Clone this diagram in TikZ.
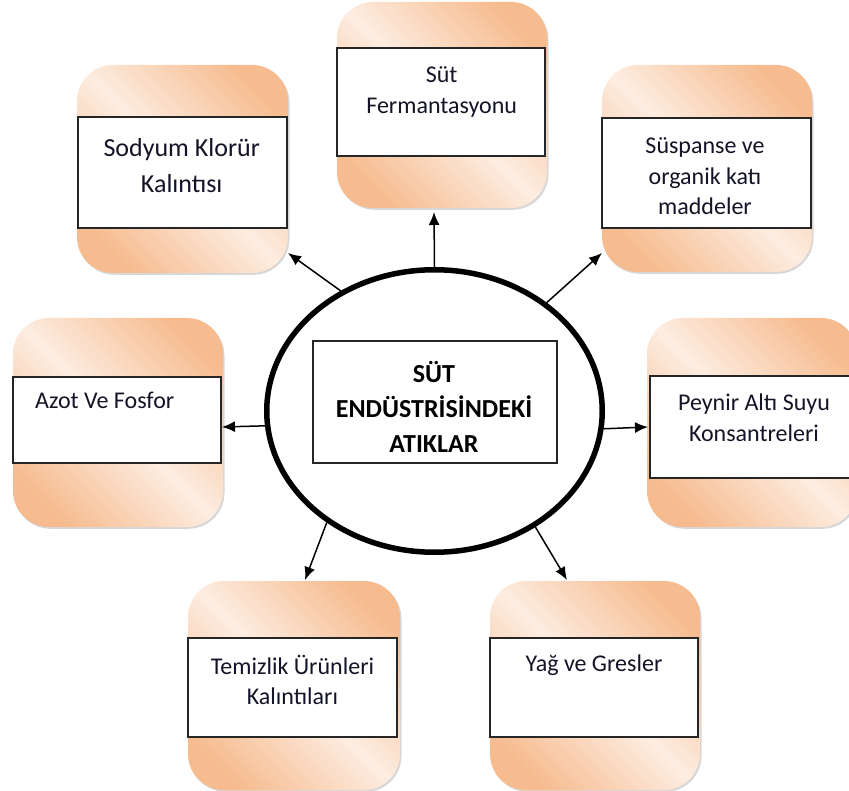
\documentclass[tikz,border=0pt]{standalone}
\usepackage{fontspec}
\setmainfont{Carlito}
\usetikzlibrary{shapes.geometric,arrows.meta,shadows}
\definecolor{pk}{RGB}{246,188,144}
\definecolor{pl}{RGB}{253,237,225}
\definecolor{txt}{RGB}{20,20,40}
\pgfdeclareverticalshading{peach}{100bp}{color(0bp)=(pk);color(24bp)=(pk);color(50bp)=(pl);color(76bp)=(pk);color(100bp)=(pk)}
\begin{document}
\begin{tikzpicture}[x=1pt,y=-1pt,
  rbox/.style={rectangle,rounded corners=36pt,inner sep=0pt,draw=none,shading=peach,shading angle=-45,
    drop shadow={shadow xshift=1.5pt,shadow yshift=-1.8pt,opacity=0.35,fill=black!45}},
  wbox/.style={rectangle,draw=black!85,line width=1.5pt,fill=white,inner sep=0pt},
  lbl/.style={align=center,text=txt,inner sep=0pt,font=\fontsize{24}{30.5}\selectfont},
  arr/.style={line width=1.5pt,-{Latex[length=13pt,width=11pt]}}]
\useasboundingbox (0,0) rectangle (849,791);
% rounded boxes
\node[rbox,minimum width=211pt,minimum height=208pt] (b1) at (182.5,169) {};
\node[rbox,minimum width=210pt,minimum height=206pt] (b2) at (442,105) {};
\node[rbox,minimum width=210pt,minimum height=207pt] (b3) at (707,168.5) {};
\node[rbox,minimum width=210pt,minimum height=209pt] (b4) at (118,422.5) {};
\node[rbox,minimum width=210pt,minimum height=209pt] (b5) at (752,422.5) {};
\node[rbox,minimum width=212pt,minimum height=209pt] (b6) at (294,685.5) {};
\node[rbox,minimum width=210pt,minimum height=209pt] (b7) at (595,685.5) {};
% white rectangles
\node[wbox,minimum width=209pt,minimum height=111pt] (w1) at (182.5,172.5) {};
\node[wbox,minimum width=208pt,minimum height=108pt] (w2) at (441,102) {};
\node[wbox,minimum width=209pt,minimum height=110pt] (w3) at (706.5,173) {};
\node[wbox,minimum width=208pt,minimum height=86pt] (w4) at (117,420) {};
\node[wbox,minimum width=210pt,minimum height=102pt] (w5) at (755,427) {};
\node[wbox,minimum width=209pt,minimum height=99pt] (w6) at (292.5,687.5) {};
\node[wbox,minimum width=208pt,minimum height=99pt] (w7) at (594,687.5) {};
% labels
\node[lbl,font=\fontsize{26}{36}\selectfont] (t1) at (181.7,166) {Sodyum Klorür\\Kalıntısı};
\node[lbl,font=\fontsize{24}{31}\selectfont] (t2) at (441.7,91.5) {Süt\\Fermantasyonu};
\node[lbl] (t3) at (705,176.5) {Süspanse ve\\organik katı\\maddeler};
\node[lbl,anchor=west] (t4) at (35,400) {Azot Ve Fosfor};
\node[lbl] (t5) at (754,418) {Peynir Altı Suyu\\Konsantreleri};
\node[lbl] (t6) at (292.5,680) {Temizlik Ürünleri\\Kalıntıları};
\node[lbl] (t7) at (594,665) {Yağ ve Gresler};
% centre
\node[ellipse,draw,line width=5.5pt,fill=white,minimum width=335.5pt,minimum height=282.5pt,inner sep=0pt] (e) at (434.5,411) {};
\node[wbox,line width=1.4pt,minimum width=244pt,minimum height=122pt] (c) at (435,402) {};
\node[lbl,font=\bfseries\fontsize{26}{35}\selectfont,text=black] (ct) at (434,407) {SÜT\\ENDÜSTRİSİNDEKİ\\ATIKLAR};
% arrow end coordinates
\coordinate (a2) at (434,212);
\coordinate (a1) at (288,253);
\coordinate (a3) at (602,253);
\coordinate (a4) at (222,427);
\coordinate (a5) at (648,427);
\coordinate (a6) at (305,580);
\coordinate (a7) at (567,580);
\draw[arr] (e.90) -- (a2);
\draw[arr] (e.128.6) -- (a1);
\draw[arr] (e.44.4) -- (a3);
\draw[arr] (e.185.4) -- (a4);
\draw[arr] (e.354.6) -- (a5);
\draw[arr] (e.226.7) -- (a6);
\draw[arr] (e.311.7) -- (a7);
\end{tikzpicture}
\end{document}
